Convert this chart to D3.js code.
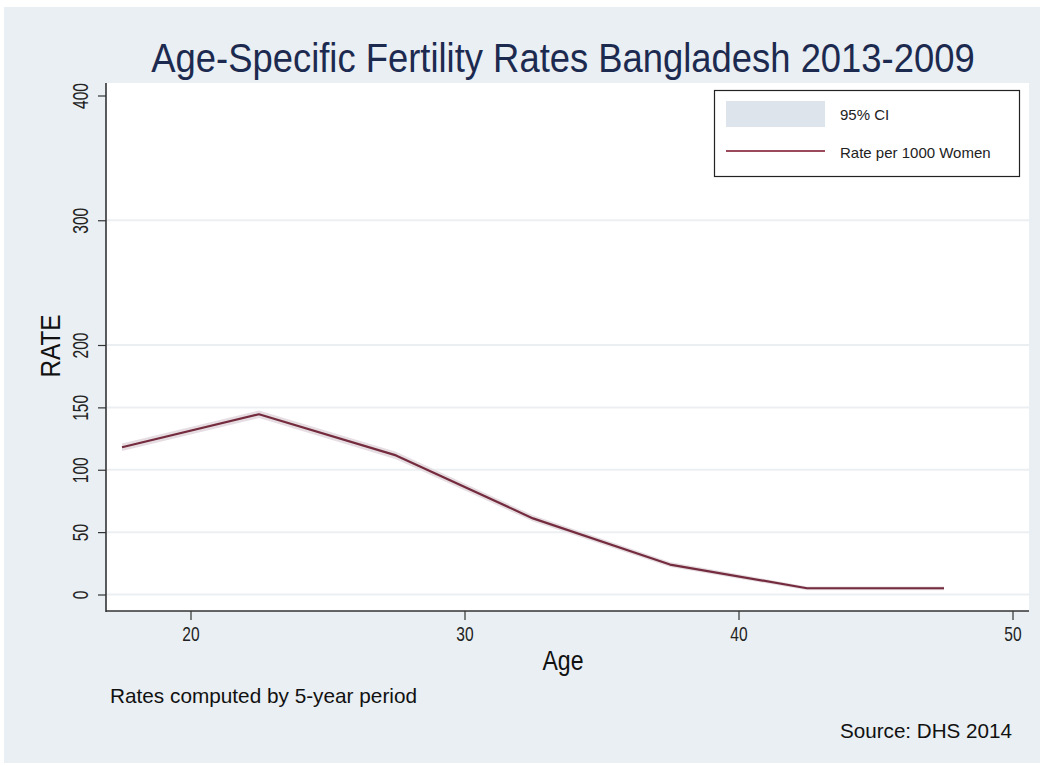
<!DOCTYPE html>
<html>
<head>
<meta charset="utf-8">
<script src="https://cdn.jsdelivr.net/npm/d3@7"></script>
<style>
  body { margin: 0; background: #fff; }
  text { font-family: "Liberation Sans", Arial, sans-serif; }
</style>
</head>
<body>
<svg id="chart" width="1043" height="766"></svg>
<script>

// data
var ages = [17.5, 22.5, 27.5, 32.5, 37.5, 42.5, 47.5];
var rates = [118, 144.5, 111.5, 61, 24, 5, 5];
var ciLow = [115, 141.5, 108.5, 58.5, 22, 3.5, 3.5];
var ciHigh = [121, 147.5, 114.5, 63.5, 26, 6.5, 6.5];
var yTicks = [0, 50, 100, 150, 200, 300, 400];
var xTicks = [20, 30, 40, 50];
var legendLabels = ['95% CI', 'Rate per 1000 Women'];

// the original uses a narrow face, so squeeze the digits a bit
function digitWidth(s, fs){
  return String(s).length * 0.556 * fs * 0.74;
}

function drawChart(){

  var svg = d3.select('#chart');

  // outer panel
  svg.append('rect')
    .attr('x', 4).attr('y', 7)
    .attr('width', 1036).attr('height', 756)
    .attr('fill', '#e9eff2');

  var plot = {left: 106, right: 1029, top: 83, bottom: 611};

  // plot region
  svg.append('rect')
    .attr('x', plot.left).attr('y', plot.top)
    .attr('width', plot.right - plot.left).attr('height', plot.bottom - plot.top)
    .attr('fill', '#fff');

  var x = d3.scaleLinear()
    .domain([20, 50])
    .range([190.5, 1012.5]);

  var y = d3.scaleLinear()
    .domain([0, 400])
    .range([594.5, 95.5]);

  // grid lines
  svg.append('g')
    .selectAll('line')
    .data(yTicks.filter(function(d){ return d < 400; }))
    .enter()
    .append('line')
      .attr('x1', plot.left + 1).attr('x2', plot.right)
      .attr('y1', function(d){ return y(d); })
      .attr('y2', function(d){ return y(d); })
      .attr('stroke', '#eceff1')
      .attr('stroke-width', 2);

  // ci band
  var data = ages.map(function(a, i){
    return {age: a, rate: rates[i], lo: ciLow[i], hi: ciHigh[i]};
  });

  var area = d3.area()
    .x(function(d){ return x(d.age); })
    .y0(function(d){ return y(d.lo); })
    .y1(function(d){ return y(d.hi); });

  svg.append('path')
    .datum(data)
    .attr('fill', '#e6dde2')
    .attr('d', area);

  var line = d3.line()
    .x(function(d){ return x(d.age); })
    .y(function(d){ return y(d.rate); });

  svg.append('path')
    .datum(data)
    .attr('fill', 'none')
    .attr('stroke', '#742b3e')
    .attr('stroke-width', 2.2)
    .attr('stroke-linejoin', 'round')
    .attr('d', line);

  // y axis
  var yAxis = svg.append('g')
    .attr('transform', 'translate(' + plot.left + ',0)')
    .call(d3.axisLeft(y).tickValues(yTicks).tickSize(8).tickFormat(d3.format('d')));
  yAxis.select('.domain').remove();
  yAxis.selectAll('.tick line').attr('stroke', '#333').attr('stroke-width', 1.2);
  yAxis.selectAll('.tick text').remove();
  yAxis.selectAll('.tick')
    .append('text')
      .attr('transform', 'translate(-18,0) rotate(-90)')
      .attr('text-anchor', 'middle')
      .attr('fill', '#222')
      .attr('font-size', 22)
      .attr('textLength', function(d){ return digitWidth(d, 21); })
      .attr('lengthAdjust', 'spacingAndGlyphs')
      .text(function(d){ return d; });

  svg.append('line')
    .attr('x1', plot.left).attr('x2', plot.left)
    .attr('y1', plot.top).attr('y2', plot.bottom + 1)
    .attr('stroke', '#333').attr('stroke-width', 1.6);

  // x axis
  var xAxis = svg.append('g')
    .attr('transform', 'translate(0,' + plot.bottom + ')')
    .call(d3.axisBottom(x).tickValues(xTicks).tickSize(9).tickPadding(6).tickFormat(d3.format('d')));
  xAxis.select('.domain').remove();
  xAxis.selectAll('.tick line').attr('stroke', '#333').attr('stroke-width', 1.2);
  xAxis.selectAll('.tick text')
    .attr('fill', '#222')
    .attr('font-size', 21)
    .attr('textLength', function(d){ return digitWidth(d, 21); })
    .attr('lengthAdjust', 'spacingAndGlyphs')
    .attr('font-family', '"Liberation Sans", Arial, sans-serif');

  svg.append('line')
    .attr('x1', plot.left).attr('x2', plot.right)
    .attr('y1', plot.bottom).attr('y2', plot.bottom)
    .attr('stroke', '#333').attr('stroke-width', 1.6);

  // titles
  svg.append('text')
    .attr('transform', 'translate(563,72) scale(0.91,1)')
    .attr('text-anchor', 'middle')
    .attr('font-size', 40)
    .attr('fill', '#1d2a50')
    .text('Age-Specific Fertility Rates Bangladesh 2013-2009');

  svg.append('text')
    .attr('transform', 'translate(60,346) rotate(-90)')
    .attr('text-anchor', 'middle')
    .attr('font-size', 28)
    .attr('fill', '#111')
    .attr('textLength', 63)
    .attr('lengthAdjust', 'spacingAndGlyphs')
    .text('RATE');

  svg.append('text')
    .attr('x', 563).attr('y', 670)
    .attr('text-anchor', 'middle')
    .attr('font-size', 27)
    .attr('fill', '#111')
    .attr('textLength', 41)
    .attr('lengthAdjust', 'spacingAndGlyphs')
    .text('Age');

  svg.append('text')
    .attr('x', 110).attr('y', 703)
    .attr('font-size', 21)
    .attr('fill', '#111')
    .attr('textLength', 307)
    .attr('lengthAdjust', 'spacingAndGlyphs')
    .text('Rates computed by 5-year period');

  svg.append('text')
    .attr('x', 1012).attr('y', 738)
    .attr('text-anchor', 'end')
    .attr('font-size', 21)
    .attr('fill', '#111')
    .attr('textLength', 172)
    .attr('lengthAdjust', 'spacingAndGlyphs')
    .text('Source: DHS 2014');

  // legend
  var lg = svg.append('g');
  lg.append('rect')
    .attr('x', 714.5).attr('y', 90.5)
    .attr('width', 305).attr('height', 86)
    .attr('fill', '#fff')
    .attr('stroke', '#222').attr('stroke-width', 1.2);

  lg.append('rect')
    .attr('x', 726).attr('y', 101)
    .attr('width', 99).attr('height', 26)
    .attr('fill', '#dde4ec');

  lg.append('line')
    .attr('x1', 726).attr('x2', 825)
    .attr('y1', 151).attr('y2', 151)
    .attr('stroke', '#9a4a5b').attr('stroke-width', 2);

  lg.selectAll('text.leg')
    .data(legendLabels)
    .enter()
    .append('text')
      .attr('class', 'leg')
      .attr('x', 840)
      .attr('y', function(d, i){ return 120 + i * 38; })
      .attr('font-size', 15)
      .attr('fill', '#222')
      .text(function(d){ return d; });
}

drawChart();

</script>
</body>
</html>
